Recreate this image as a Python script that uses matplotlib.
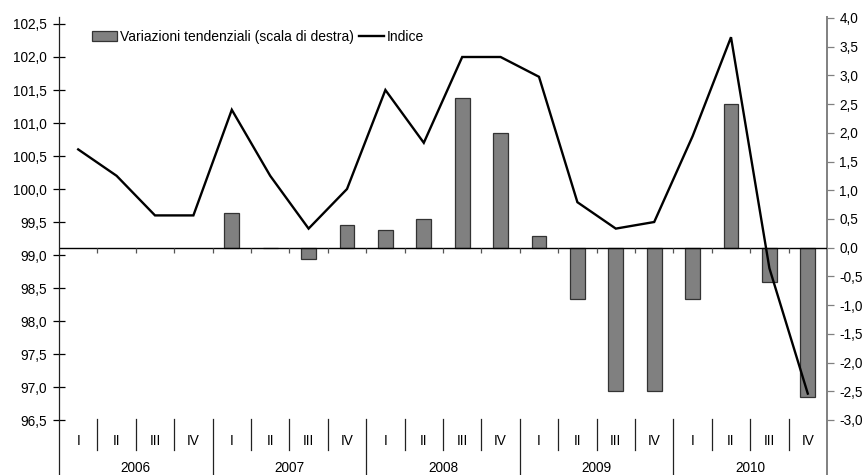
import numpy as np
import matplotlib
matplotlib.use("Agg")
import matplotlib.pyplot as plt
from matplotlib.ticker import FuncFormatter, FixedLocator
from matplotlib.patches import Patch
from matplotlib.lines import Line2D

plt.rcParams['font.family'] = ['Liberation Sans', 'DejaVu Sans']

years = ["2006", "2007", "2008", "2009", "2010"]
quarters = ["I", "II", "III", "IV"]
indice = [100.6, 100.2, 99.6, 99.6,
          101.2, 100.2, 99.4, 100.0,
          101.5, 100.7, 102.0, 102.0,
          101.7, 99.8, 99.4, 99.5,
          100.8, 102.3, 98.8, 96.9]
variazioni = [np.nan, np.nan, np.nan, np.nan,
              0.6, 0.0, -0.2, 0.4,
              0.3, 0.5, 2.6, 2.0,
              0.2, -0.9, -2.5, -2.5,
              -0.9, 2.5, -0.6, -2.6]
left_ticks = [96.5, 97.0, 97.5, 98.0, 98.5, 99.0, 99.5, 100.0, 100.5, 101.0, 101.5, 102.0, 102.5]
right_ticks = [-3.0, -2.5, -2.0, -1.5, -1.0, -0.5, 0.0, 0.5, 1.0, 1.5, 2.0, 2.5, 3.0, 3.5, 4.0]
label_bar = "Variazioni tendenziali (scala di destra)"
label_line = "Indice"

W, H = 865, 475
fig = plt.figure(figsize=(W / 100, H / 100), dpi=100)
L, R, T, B = 59, 827, 17, 475
ax = fig.add_axes([L / W, 1 - B / H, (R - L) / W, (B - T) / H])
ax2 = ax.twinx()
ax.set_zorder(2)
ax.patch.set_visible(False)

n = len(indice)
x = np.arange(n)

# bars on right axis
ax2.bar(x, variazioni, width=0.39, color='#808080', edgecolor='#333333', linewidth=0.9, zorder=2)
ax2.axhline(0, color='black', linewidth=1.0, zorder=3)
# small ticks below zero line at category boundaries
for b in np.arange(0.5, n - 0.5, 1.0):
    ax2.plot([b, b], [0, -0.09], color='#555555', linewidth=0.9, zorder=3, solid_capstyle='butt')

# line on left axis
ax.plot(x, indice, color='black', linewidth=1.7, zorder=4, solid_joinstyle='miter')

ax.set_xlim(-0.5, n - 0.5)
ax.set_ylim(95.667, 102.606)
ax2.set_ylim(-3.958, 4.017)

fmt = FuncFormatter(lambda v, p: f"{v:.1f}".replace('.', ','))
ax.yaxis.set_major_locator(FixedLocator(left_ticks))
ax.yaxis.set_major_formatter(fmt)
ax2.yaxis.set_major_locator(FixedLocator(right_ticks))
ax2.yaxis.set_major_formatter(fmt)

ax.tick_params(axis='y', direction='inout', length=9, width=0.9, labelsize=9.8, pad=4, colors='black')
ax2.tick_params(axis='y', direction='out', length=5, width=0.9, labelsize=9.8, pad=4, color='#808080', labelcolor='black')
ax.set_xticks([])
ax2.set_xticks([])

for a in (ax, ax2):
    a.spines['top'].set_visible(False)
    a.spines['bottom'].set_visible(False)
ax.spines['right'].set_visible(False)
ax2.spines['left'].set_visible(False)
ax.spines['left'].set_color('#222222')
ax.spines['left'].set_linewidth(0.9)
ax2.spines['right'].set_color('#808080')
ax2.spines['right'].set_linewidth(1.4)

# category labels at bottom
tr = ax.get_xaxis_transform()
def yf(ypx):
    return (B - ypx) / (B - T)
for i in range(n):
    ax.text(x[i], yf(441), quarters[i % 4], transform=tr, ha='center', va='center', fontsize=9.8)
for b in range(1, n):
    xb = b - 0.5
    if b % 4 == 0:
        ax.plot([xb, xb], [yf(419), 0], transform=tr, color='#222222', linewidth=0.9, clip_on=False)
    else:
        ax.plot([xb, xb], [yf(419), yf(450)], transform=tr, color='#222222', linewidth=0.9, clip_on=False)
for j, yr in enumerate(years):
    ax.text(4 * j + 1.5, yf(468), yr, transform=tr, ha='center', va='center', fontsize=9.8)

handles = [Patch(facecolor='#808080', edgecolor='#333333', linewidth=0.9),
           Line2D([0], [0], color='black', linewidth=1.7)]
fig.legend(handles, [label_bar, label_line], loc='center left',
           bbox_to_anchor=(92 / W, 1 - 37 / H), ncol=2, frameon=False,
           fontsize=10, handlelength=1.8, handleheight=0.7, handletextpad=0.2,
           columnspacing=0.4, borderaxespad=0, borderpad=0)

fig.savefig("out.png", dpi=100)
